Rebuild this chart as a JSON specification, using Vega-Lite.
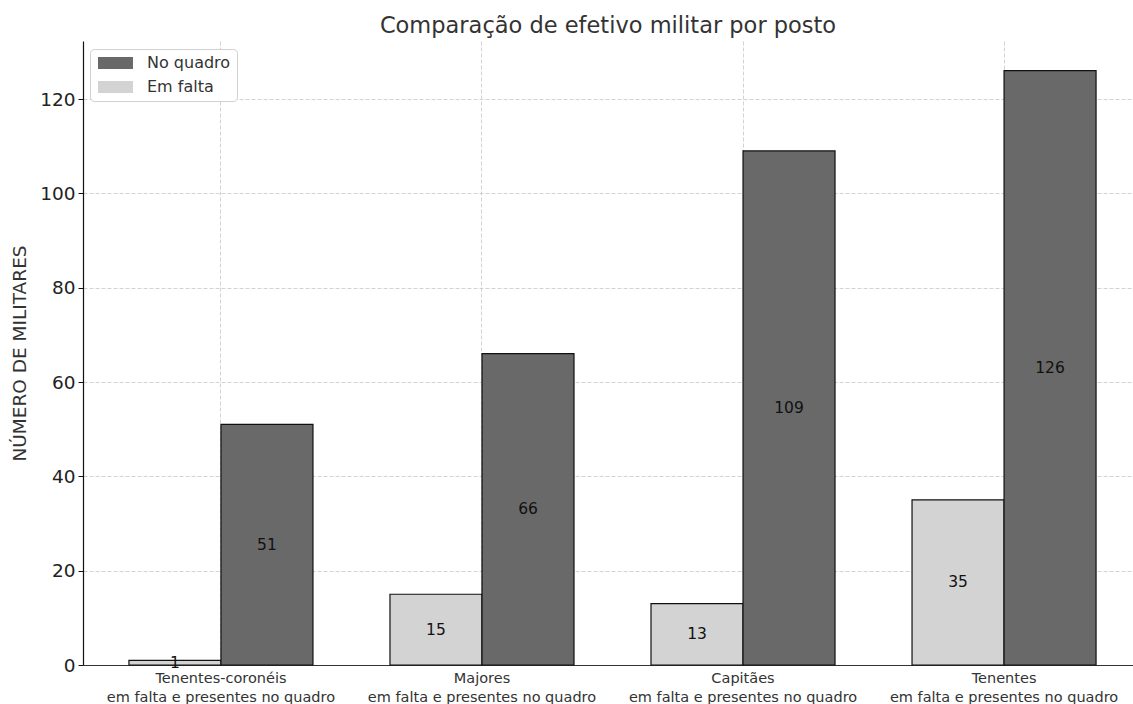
{
  "$schema": "https://vega.github.io/schema/vega-lite/v6.json",
  "width": 1050,
  "height": 624,
  "autosize": {"type": "none"},
  "padding": {"left": 83, "top": 41, "right": 0, "bottom": 39},
  "background": "white",
  "config": {
    "font": "DejaVu Sans",
    "view": {"stroke": null},
    "axis": {"labelFont": "DejaVu Sans", "titleFont": "DejaVu Sans"}
  },
  "title": {
    "text": "Comparação de efetivo militar por posto",
    "fontSize": 22.5,
    "fontWeight": "normal",
    "color": "#333333",
    "anchor": "middle",
    "offset": 4
  },
  "data": {
    "values": [
      {"posto": "Tenentes-coronéis", "serie": "Em falta", "valor": 1},
      {"posto": "Tenentes-coronéis", "serie": "No quadro", "valor": 51},
      {"posto": "Majores", "serie": "Em falta", "valor": 15},
      {"posto": "Majores", "serie": "No quadro", "valor": 66},
      {"posto": "Capitães", "serie": "Em falta", "valor": 13},
      {"posto": "Capitães", "serie": "No quadro", "valor": 109},
      {"posto": "Tenentes", "serie": "Em falta", "valor": 35},
      {"posto": "Tenentes", "serie": "No quadro", "valor": 126}
    ]
  },
  "encoding": {
    "x": {
      "field": "posto",
      "type": "nominal",
      "sort": ["Tenentes-coronéis", "Majores", "Capitães", "Tenentes"],
      "scale": {"paddingInner": 0.295, "paddingOuter": 0.176, "range": [0, 1059]},
      "axis": {
        "title": null,
        "labelAngle": 0,
        "labelFontSize": 14.5,
        "labelColor": "#333333",
        "labelLimit": 400,
        "labelExpr": "[datum.label, 'em falta e presentes no quadro']",
        "labelLineHeight": 19,
        "labelPadding": 6,
        "ticks": false,
        "domainColor": "#333333",
        "domainWidth": 1.2,
        "grid": true,
        "bandPosition": 0.5,
        "gridColor": "#c8c8c8",
        "gridDash": [4, 2],
        "gridWidth": 0.8
      }
    },
    "xOffset": {
      "field": "serie",
      "type": "nominal",
      "sort": ["Em falta", "No quadro"],
      "scale": {"paddingInner": 0, "paddingOuter": 0}
    }
  },
  "layer": [
    {
      "mark": {"type": "bar", "stroke": "#111111", "strokeWidth": 1.2},
      "encoding": {
        "y": {
          "field": "valor",
          "type": "quantitative",
          "scale": {"domain": [0, 132.3], "nice": false, "zero": true},
          "axis": {
            "title": "NÚMERO DE MILITARES",
            "titleFontSize": 18.5,
            "titleFontWeight": "normal",
            "titleColor": "#333333",
            "titlePadding": 10,
            "values": [0, 20, 40, 60, 80, 100, 120],
            "labelFontSize": 18.5,
            "labelColor": "#222222",
            "labelPadding": 3,
            "tickSize": 5,
            "tickColor": "#111111",
            "domainColor": "#111111",
            "domainWidth": 1.2,
            "grid": true,
            "gridColor": "#c8c8c8",
            "gridDash": [4, 2],
            "gridWidth": 0.8
          }
        },
        "color": {
          "field": "serie",
          "type": "nominal",
          "scale": {"domain": ["No quadro", "Em falta"], "range": ["#696969", "#d3d3d3"]},
          "legend": {
            "title": null,
            "orient": "none",
            "legendX": 7,
            "legendY": 8,
            "fillColor": "white",
            "strokeColor": "#d0d0d0",
            "cornerRadius": 4,
            "padding": 6,
            "symbolType": "M-1,-1L4.83,-1L4.83,1L-1,1Z",
            "symbolSize": 144,
            "symbolStrokeWidth": 0,
            "symbolOpacity": 1,
            "labelFontSize": 16,
            "labelColor": "#333333",
            "labelOffset": 35,
            "rowPadding": 8
          }
        }
      }
    },
    {
      "mark": {"type": "text", "fontSize": 15.5, "color": "#111111", "baseline": "middle", "align": "center"},
      "encoding": {
        "y": {
          "field": "valor",
          "type": "quantitative",
          "scale": {"domain": [0, 264.6], "nice": false, "zero": true},
          "axis": null
        },
        "text": {"field": "valor", "type": "quantitative"}
      }
    }
  ],
  "resolve": {"scale": {"y": "independent"}}
}
